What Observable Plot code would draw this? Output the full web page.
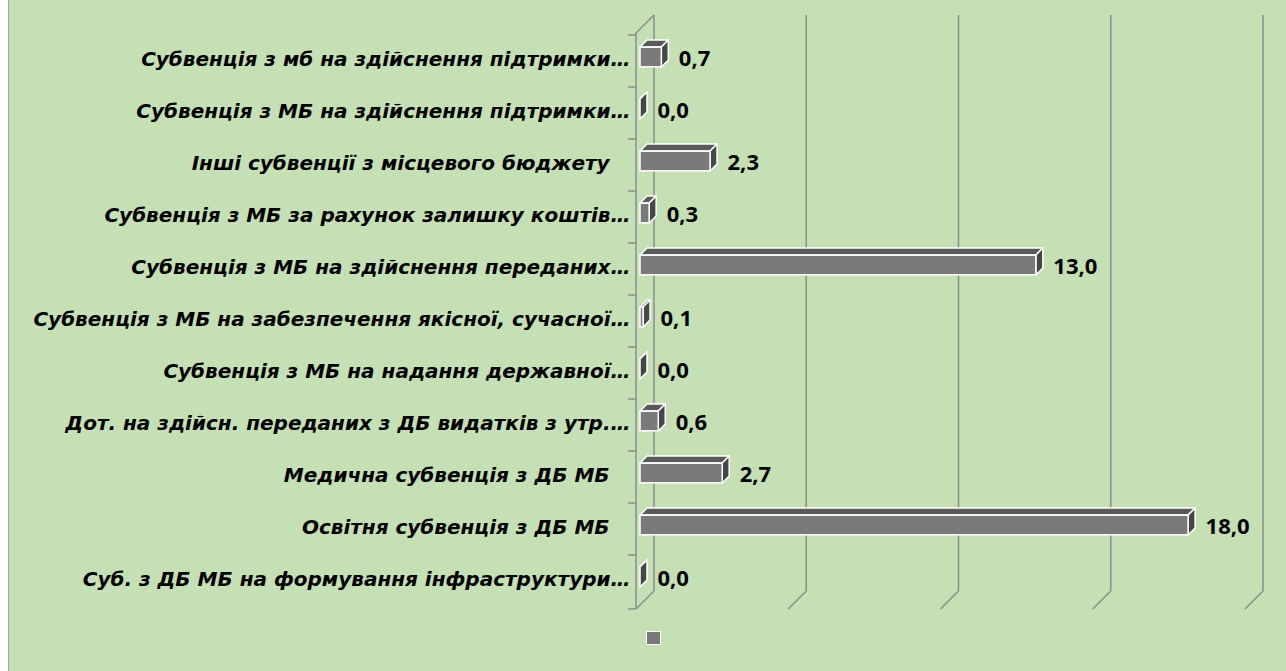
<!DOCTYPE html>
<html><head><meta charset="utf-8">
<script src="https://cdn.jsdelivr.net/npm/d3@7"></script>
<script src="https://cdn.jsdelivr.net/npm/@observablehq/plot@0.6"></script>
<style>
html,body{margin:0;padding:0;background:#c5e0b4;}
#wrap{position:relative;width:1286px;height:671px;overflow:hidden;background:#c5e0b4;}
#edge{position:absolute;left:0;top:0;width:8px;height:671px;background:#fff;border-right:1px solid #a6a6a6;}
#legend{position:relative;height:51px;}
#legend .sw{position:absolute;left:646px;top:11px;width:13px;height:12px;background:#7a7a7a;border:1px solid #fff;}
svg text{white-space:pre;}
</style></head>
<body><div id="wrap"><div id="chart"></div><div id="legend"><span class="sw"></span></div><div id="edge"></div></div>
<script>
const categories = [
  "Субвенція з мб на здійснення підтримки…",
  "Субвенція з МБ на здійснення підтримки…",
  "Інші субвенції з місцевого бюджету   ",
  "Субвенція з МБ за рахунок залишку коштів…",
  "Субвенція з МБ на здійснення переданих…",
  "Субвенція з МБ на забезпечення якісної, сучасної…",
  "Субвенція з МБ на надання державної…",
  "Дот. на здійсн. переданих з ДБ видатків з утр.…",
  "Медична субвенція з ДБ МБ   ",
  "Освітня субвенція з ДБ МБ   ",
  "Суб. з ДБ МБ на формування інфраструктури…"
];
const values = [0.7, 0.0, 2.3, 0.3, 13.0, 0.1, 0.0, 0.6, 2.7, 18.0, 0.0];
const xTicks = [0, 5, 10, 15, 20];

const fmt = v => d3.format(".1f")(v).replace(".", ",");
const data = categories.map((c, i) => ({category: c, value: values[i]}));

const W = 1286, H = 620;
const M = {top: 33, bottom: 11, left: 636, right: 41};
const WALL = 18, BAR_OFF = 4, BAR_DEPTH = 7, BAR_H = 20;
const GRID = "#8c8c8c", FRONT = "#7a7a7a", TOP = "#595959", SIDE = "#474747";
const bandH = (H - M.top - M.bottom) / categories.length;
const inset = (bandH - BAR_H) / 2;

function wallsMark(index, scales, values, dims) {
  const x = scales.x, y = scales.y;
  const top = dims.marginTop, bottom = dims.height - dims.marginBottom;
  const x0 = x(0);
  const g = d3.create("svg:g").attr("fill", "none").attr("stroke", GRID).attr("stroke-width", 1.5);
  for (const t of xTicks) {
    const xb = x(t) + WALL;
    g.append("path").attr("d", `M${xb},${top - WALL}V${bottom - WALL}L${x(t)},${bottom}`);
  }
  g.append("path").attr("d", `M${x0},${bottom}V${top}L${x0 + WALL},${top - WALL}`);
  for (const c of categories) g.append("path").attr("d", `M${x0 - 8},${y(c)}H${x0}`);
  g.append("path").attr("d", `M${x0 - 8},${bottom}H${x0}`);
  return g.node();
}

function barSidesMark(index, scales) {
  const x = scales.x, y = scales.y, bw = y.bandwidth();
  const g = d3.create("svg:g").attr("stroke", "#fff").attr("stroke-width", 1.5).attr("stroke-linejoin", "round");
  for (const d of data) {
    const xl = x(0) + BAR_OFF, xr = x(d.value) + BAR_OFF;
    const yc = y(d.category) + bw / 2 - BAR_OFF;
    const yt = yc - BAR_H / 2, yb = yc + BAR_H / 2;
    g.append("path").attr("fill", TOP)
      .attr("d", `M${xl},${yt}L${xr},${yt}L${xr + BAR_DEPTH},${yt - BAR_DEPTH}L${xl + BAR_DEPTH},${yt - BAR_DEPTH}Z`);
    g.append("path").attr("fill", SIDE)
      .attr("d", `M${xr},${yt}L${xr + BAR_DEPTH},${yt - BAR_DEPTH}L${xr + BAR_DEPTH},${yb - BAR_DEPTH}L${xr},${yb}Z`);
  }
  return g.node();
}

const chart = Plot.plot({
  width: W, height: H,
  marginTop: M.top, marginBottom: M.bottom, marginLeft: M.left, marginRight: M.right,
  style: {background: "transparent", fontFamily: "Open Sans", overflow: "visible"},
  x: {domain: [0, 20], axis: null},
  y: {domain: categories, axis: null, padding: 0},
  marks: [
    wallsMark,
    barSidesMark,
    Plot.barX(data, {x: "value", y: "category", fill: FRONT, stroke: "#fff", strokeWidth: 1.5,
      insetTop: inset, insetBottom: inset, dx: BAR_OFF, dy: -BAR_OFF}),
    Plot.text(data, {x: () => 0, y: "category", text: "category", textAnchor: "end", dx: -6, dy: -2,
      fontFamily: "DejaVu Sans", fontSize: 20, fontWeight: "bold", fontStyle: "italic", fill: "#000"}),
    Plot.text(data, {x: "value", y: "category", text: d => fmt(d.value), textAnchor: "start", dx: 21, dy: -3,
      fontSize: 22, fontWeight: "bold", fill: "#000"})
  ]
});
document.getElementById("chart").appendChild(chart);
</script>
</body></html>
